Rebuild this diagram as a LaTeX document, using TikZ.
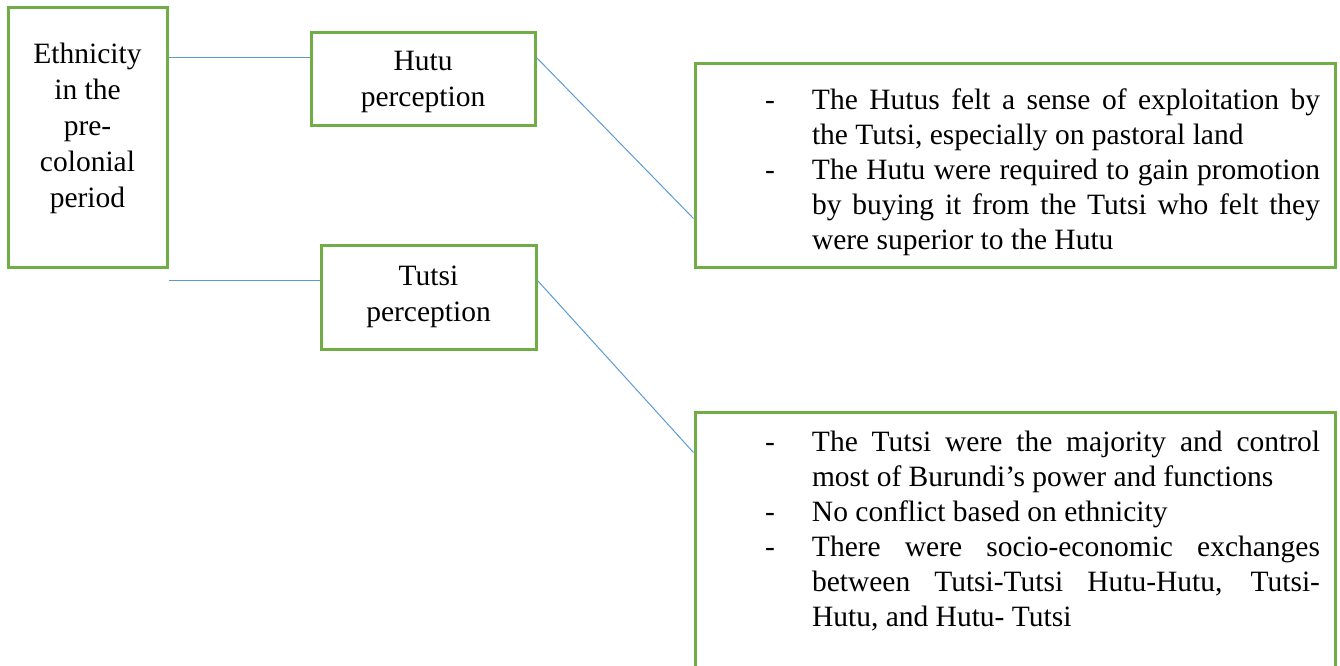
\documentclass[tikz,border=0pt]{standalone}
\usepackage{fontspec}
\setmainfont{Liberation Serif}
\usepackage{tikz}
\usetikzlibrary{calc}
\definecolor{boxgreen}{HTML}{70AD47}
\definecolor{linkblue}{HTML}{5B9BD5}
\tikzstyle{perc} = [rectangle, draw=boxgreen, line width=1.5pt, align=center, inner sep=0pt]
\tikzstyle{view} = [rectangle, draw=boxgreen, line width=1.5pt, inner xsep=7.5pt, inner ysep=0pt, text width=305pt, align=justify, font=\fontsize{14.75}{17.5}\selectfont, execute at begin node={\hyphenpenalty=10000\exhyphenpenalty=10000\tolerance=9999}]
\tikzstyle{link} = [draw=linkblue, line width=0.5pt]
\newcommand{\dashitem}{\par\leftskip=51pt\rightskip=0pt\noindent\llap{\makebox[23.5pt][l]{-}}}

\begin{document}
\begin{tikzpicture}[x=0.5pt,y=-0.5pt,font=\fontsize{14.75}{18}\selectfont]
  \clip (0,0) rectangle (1340,665);
  \node[perc, minimum width=79.5pt, minimum height=130pt] (eth) at (87.5,137) {Ethnicity\\in the\\pre-\\colonial\\period\\[-6.5pt]\mbox{}};
  \node[perc, minimum width=112pt, minimum height=46.5pt] (hutu) at (423,78.5) {\rule{0pt}{13.5pt}Hutu\\perception};
  \node[perc, minimum width=107.5pt, minimum height=52pt] (tutsi) at (428.5,297) {Tutsi\\perception};
  \node[view, minimum height=102pt] (hutuview) at (1015,165) {%
    \dashitem The Hutus felt a sense of exploitation by\linebreak the Tutsi, especially on pastoral land
    \dashitem The Hutu were required to gain promotion\linebreak by buying it from the Tutsi who felt they\linebreak were superior to the Hutu\par};
  \node[view, minimum height=131pt] (tutsiview) at (1015,543) {%
    \dashitem The Tutsi were the majority and control\linebreak most of Burundi’s power and functions
    \dashitem No conflict based on ethnicity
    \dashitem There were socio-economic exchanges\linebreak between Tutsi-Tutsi Hutu-Hutu, Tutsi-\linebreak Hutu, and Hutu- Tutsi
    \par\noindent\rule[-4pt]{0pt}{4pt}\par};

  \coordinate (h1) at ($(hutu.north west)+(0,27)$);
  \coordinate (h2) at ($(hutu.north east)+(0,27)$);
  \coordinate (t1) at ($(tutsi.north west)+(0,37)$);
  \coordinate (t2) at ($(tutsi.north east)+(0,37)$);
  \coordinate (hv) at ($(hutuview.north west)+(0,157)$);
  \coordinate (tv) at ($(tutsiview.north west)+(0,42)$);
  \coordinate (tfree) at (t1 -| eth.east);

  \path[link] (h1 -| eth.east) edge (h1);
  \path[link] (tfree) edge (t1);
  \path[link] (h2) edge (hv);
  \path[link] (t2) edge (tv);
\end{tikzpicture}
\end{document}
